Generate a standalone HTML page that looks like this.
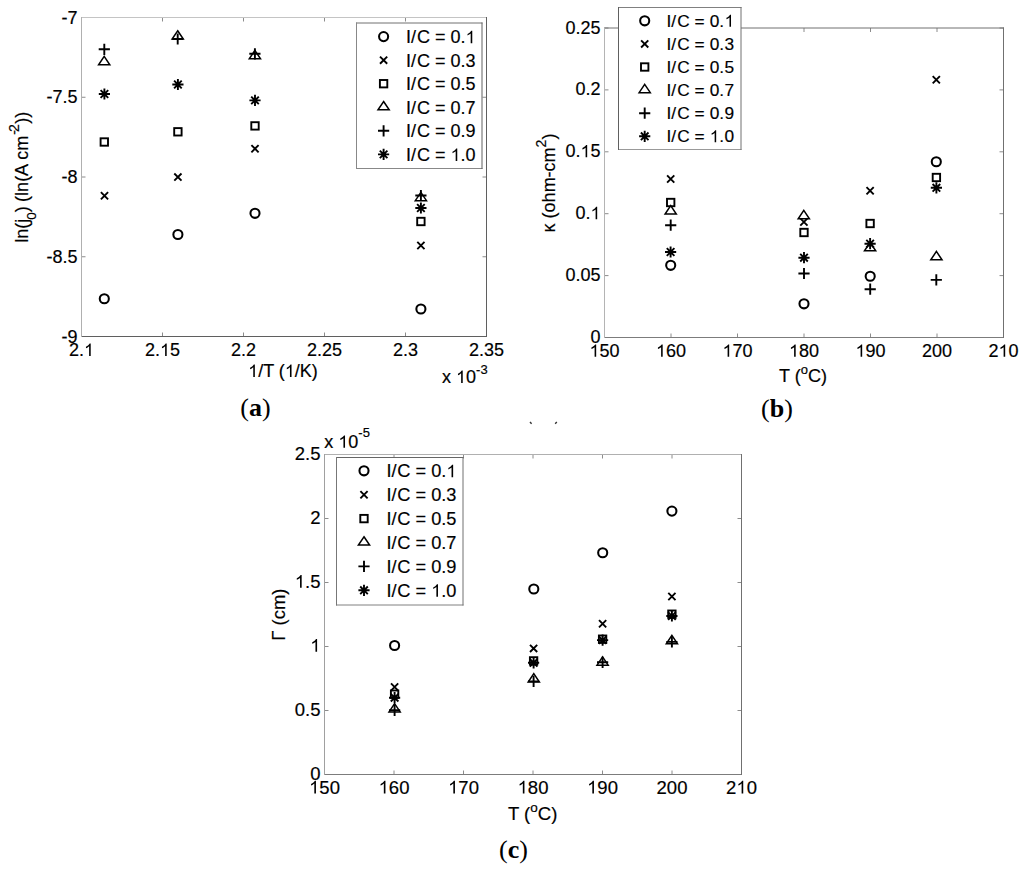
<!DOCTYPE html>
<html><head><meta charset="utf-8"><title>figure</title>
<style>
html,body{margin:0;padding:0;background:#fff;}
body{width:1024px;height:873px;overflow:hidden;}
svg{display:block;}
text{font-family:"Liberation Sans", sans-serif;fill:#000;stroke:#000;stroke-width:0.18px;}
.h{fill-opacity:0;stroke-opacity:0;}
</style></head><body>
<svg width="1024" height="873" viewBox="0 0 1024 873">
<rect width="1024" height="873" fill="#fff"/>
<path d="M81.5 336.5v-4M81.5 17.5v4M162.5 336.5v-4M162.5 17.5v4M243.5 336.5v-4M243.5 17.5v4M324.5 336.5v-4M324.5 17.5v4M405.5 336.5v-4M405.5 17.5v4M486.5 336.5v-4M486.5 17.5v4M81.5 17.5h4M486.5 17.5h-4M81.5 97.25h4M486.5 97.25h-4M81.5 177h4M486.5 177h-4M81.5 256.75h4M486.5 256.75h-4M81.5 336.5h4M486.5 336.5h-4" fill="none" stroke="#8c8c8c" stroke-width="1"/>
<g fill="none" stroke-width="1"><path d="M81 17.5H487" stroke="#c4c4c4"/><path d="M81 336.5H487" stroke="#5f5f5f"/><path d="M81.5 17V337" stroke="#b0b0b0"/><path d="M486.5 17V337" stroke="#5f5f5f"/></g>
<text x="81.5" y="356" font-size="18" text-anchor="middle">2.<tspan class="h">1</tspan></text>
<text x="162.5" y="356" font-size="18" text-anchor="middle">2.<tspan class="h">1</tspan>5</text>
<text x="243.5" y="356" font-size="18" text-anchor="middle">2.2</text>
<text x="324.5" y="356" font-size="18" text-anchor="middle">2.25</text>
<text x="405.5" y="356" font-size="18" text-anchor="middle">2.3</text>
<text x="486.5" y="356" font-size="18" text-anchor="middle">2.35</text>
<text x="77.5" y="23.5" font-size="18" text-anchor="end">-7</text>
<text x="77.5" y="103.25" font-size="18" text-anchor="end">-7.5</text>
<text x="77.5" y="183" font-size="18" text-anchor="end">-8</text>
<text x="77.5" y="262.75" font-size="18" text-anchor="end">-8.5</text>
<text x="77.5" y="342.5" font-size="18" text-anchor="end">-9</text>
<text x="442" y="383" font-size="18">x <tspan class="h">1</tspan>0<tspan font-size="13" dy="-9">-3</tspan></text>
<text x="283" y="377" font-size="18" text-anchor="middle"><tspan class="h">1</tspan>/T (<tspan class="h">1</tspan>/K)</text>
<text transform="translate(27.7 242.8) rotate(-90)" font-size="18">ln(j<tspan font-size="13.5" dy="8.3" dx="-1">0</tspan><tspan dy="-8.3">) </tspan><tspan dx="-0.6">(ln(A cm</tspan><tspan font-size="14" dy="-8.8" dx="1">-</tspan><tspan font-size="14" dx="-1.8">2</tspan><tspan dy="8.8" dx="0.4">))</tspan></text>
<g fill="none" stroke="#000" stroke-width="1.9"><path d="M98.7 49.3H109.9M104.3 43.7V54.9"/><path stroke-width="1.5" d="M104.2 56.45L109.8 64.8L98.6 64.8Z"/><path d="M98.8 94H110M104.4 88.4V99.6M100.6 90.2L108.2 97.8M100.6 97.8L108.2 90.2"/><rect x="100.6" y="138.3" width="7.4" height="7.4"/><path d="M100.9 192.1L108.1 199.3M100.9 199.3L108.1 192.1"/><circle cx="104.3" cy="298.7" r="4.55" stroke-width="2.05"/><path stroke-width="1.5" d="M177.7 30.75L183.3 39.1L172.1 39.1Z"/><path d="M172.1 39H183.3M177.7 33.4V44.6"/><path d="M172.3 84.5H183.5M177.9 78.9V90.1M174.1 80.7L181.7 88.3M174.1 88.3L181.7 80.7"/><rect x="174.2" y="128.1" width="7.4" height="7.4"/><path d="M174.3 173.5L181.5 180.7M174.3 180.7L181.5 173.5"/><circle cx="177.9" cy="234.5" r="4.55" stroke-width="2.05"/><path stroke-width="1.5" d="M254.9 50.45L260.5 58.8L249.3 58.8Z"/><path d="M249.3 53.8H260.5M254.9 48.2V59.4"/><path d="M249.4 100.4H260.6M255 94.8V106M251.2 96.6L258.8 104.2M251.2 104.2L258.8 96.6"/><rect x="251.3" y="122.2" width="7.4" height="7.4"/><path d="M251.4 145.1L258.6 152.3M251.4 152.3L258.6 145.1"/><circle cx="255" cy="213.3" r="4.55" stroke-width="2.05"/><path stroke-width="1.5" d="M420.9 192.35L426.5 200.7L415.3 200.7Z"/><path d="M415.3 195.5H426.5M420.9 189.9V201.1"/><path d="M415.3 208H426.5M420.9 202.4V213.6M417.1 204.2L424.7 211.8M417.1 211.8L424.7 204.2"/><rect x="417.2" y="217.8" width="7.4" height="7.4"/><path d="M417.3 241.9L424.5 249.1M417.3 249.1L424.5 241.9"/><circle cx="420.9" cy="309" r="4.55" stroke-width="2.05"/></g>
<rect x="356.5" y="23" width="125.5" height="145.5" fill="#fff"/>
<g fill="none" stroke-width="1"><path d="M356 23H482.5" stroke="#707070"/><path d="M356 168.5H482.5" stroke="#888"/><path d="M356.5 22.5V169" stroke="#888"/><path d="M482 22.5V169" stroke="#606060"/></g>
<text x="406" y="43.2" font-size="18" text-anchor="start" dx="0 0 1.0">I/C = 0.<tspan class="h">1</tspan></text>
<text x="406" y="66.75" font-size="18" text-anchor="start" dx="0 0 1.0">I/C = 0.3</text>
<text x="406" y="90.3" font-size="18" text-anchor="start" dx="0 0 1.0">I/C = 0.5</text>
<text x="406" y="113.85" font-size="18" text-anchor="start" dx="0 0 1.0">I/C = 0.7</text>
<text x="406" y="137.4" font-size="18" text-anchor="start" dx="0 0 1.0">I/C = 0.9</text>
<text x="406" y="160.95" font-size="18" text-anchor="start" dx="0 0 1.0">I/C = <tspan class="h">1</tspan>.0</text>
<g fill="none" stroke="#000" stroke-width="1.9"><circle cx="383.6" cy="36.6" r="4.55" stroke-width="2.05"/><path d="M380 56.55L387.2 63.75M380 63.75L387.2 56.55"/><rect x="379.9" y="80" width="7.4" height="7.4"/><path stroke-width="1.5" d="M383.6 101.5L389.2 109.85L378 109.85Z"/><path d="M378 130.8H389.2M383.6 125.2V136.4"/><path d="M378 154.35H389.2M383.6 148.75V159.95M379.8 150.55L387.4 158.15M379.8 158.15L387.4 150.55"/></g>
<text x="255.5" y="416" style='font-family:"Liberation Serif", serif;stroke:none' font-size="26" text-anchor="middle">(<tspan style="font-weight:bold">a</tspan>)</text>
<path d="M604.5 337.5v-4M604.5 28v4M671 337.5v-4M671 28v4M737.5 337.5v-4M737.5 28v4M804 337.5v-4M804 28v4M870.5 337.5v-4M870.5 28v4M937 337.5v-4M937 28v4M1003.5 337.5v-4M1003.5 28v4M604.5 337.5h4M1003.5 337.5h-4M604.5 275.6h4M1003.5 275.6h-4M604.5 213.7h4M1003.5 213.7h-4M604.5 151.8h4M1003.5 151.8h-4M604.5 89.9h4M1003.5 89.9h-4M604.5 28h4M1003.5 28h-4" fill="none" stroke="#8c8c8c" stroke-width="1"/>
<g fill="none" stroke-width="1"><path d="M604 28H1004" stroke="#707070"/><path d="M604 337.5H1004" stroke="#7c7c7c"/><path d="M604.5 27.5V338" stroke="#b4b4b4"/><path d="M1003.5 27.5V338" stroke="#707070"/></g>
<text x="604.5" y="356.8" font-size="18" text-anchor="middle"><tspan class="h">1</tspan>50</text>
<text x="671" y="356.8" font-size="18" text-anchor="middle"><tspan class="h">1</tspan>60</text>
<text x="737.5" y="356.8" font-size="18" text-anchor="middle"><tspan class="h">1</tspan>70</text>
<text x="804" y="356.8" font-size="18" text-anchor="middle"><tspan class="h">1</tspan>80</text>
<text x="870.5" y="356.8" font-size="18" text-anchor="middle"><tspan class="h">1</tspan>90</text>
<text x="937" y="356.8" font-size="18" text-anchor="middle">200</text>
<text x="1003.5" y="356.8" font-size="18" text-anchor="middle">2<tspan class="h">1</tspan>0</text>
<text x="600.5" y="343" font-size="18" text-anchor="end">0</text>
<text x="600.5" y="281.1" font-size="18" text-anchor="end">0.05</text>
<text x="600.5" y="219.2" font-size="18" text-anchor="end">0.<tspan class="h">1</tspan></text>
<text x="600.5" y="157.3" font-size="18" text-anchor="end">0.<tspan class="h">1</tspan>5</text>
<text x="600.5" y="95.4" font-size="18" text-anchor="end">0.2</text>
<text x="600.5" y="33.5" font-size="18" text-anchor="end">0.25</text>
<text x="779" y="382.4" font-size="18">T (<tspan font-size="13" dy="-8">o</tspan><tspan dy="8">C)</tspan></text>
<text transform="translate(555.2 183) rotate(-90)" font-size="18" text-anchor="middle">κ (ohm-cm<tspan font-size="14" dy="-9.2">2</tspan><tspan dy="9.2">)</tspan></text>
<g fill="none" stroke="#000" stroke-width="1.9"><path d="M667.1 175.4L674.3 182.6M667.1 182.6L674.3 175.4"/><rect x="667" y="198.8" width="7.4" height="7.4"/><path stroke-width="1.5" d="M670.7 205.65L676.3 214L665.1 214Z"/><path d="M665.1 225.2H676.3M670.7 219.6V230.8"/><path d="M665 252H676.2M670.6 246.4V257.6M666.8 248.2L674.4 255.8M666.8 255.8L674.4 248.2"/><circle cx="670.7" cy="265.3" r="4.55" stroke-width="2.05"/><path stroke-width="1.5" d="M803.8 210.45L809.4 218.8L798.2 218.8Z"/><path d="M800.3 218.4L807.5 225.6M800.3 225.6L807.5 218.4"/><rect x="800.3" y="228.8" width="7.4" height="7.4"/><path d="M798.4 257.7H809.6M804 252.1V263.3M800.2 253.9L807.8 261.5M800.2 261.5L807.8 253.9"/><path d="M798.4 273.5H809.6M804 267.9V279.1"/><circle cx="804" cy="303.8" r="4.55" stroke-width="2.05"/><path d="M866.5 187.2L873.7 194.4M866.5 194.4L873.7 187.2"/><rect x="866.4" y="219.8" width="7.4" height="7.4"/><path d="M864.5 243.7H875.7M870.1 238.1V249.3M866.3 239.9L873.9 247.5M866.3 247.5L873.9 239.9"/><path stroke-width="1.5" d="M870.1 242.45L875.7 250.8L864.5 250.8Z"/><circle cx="870.2" cy="276.2" r="4.55" stroke-width="2.05"/><path d="M864.6 289.2H875.8M870.2 283.6V294.8"/><path d="M932.7 76.2L939.9 83.4M932.7 83.4L939.9 76.2"/><circle cx="936.3" cy="161.7" r="4.55" stroke-width="2.05"/><rect x="932.7" y="173.8" width="7.4" height="7.4"/><path d="M930.8 187.8H942M936.4 182.2V193.4M932.6 184L940.2 191.6M932.6 191.6L940.2 184"/><path stroke-width="1.5" d="M936.4 251.45L942 259.8L930.8 259.8Z"/><path d="M930.7 279.9H941.9M936.3 274.3V285.5"/></g>
<rect x="618.5" y="7.5" width="122.5" height="142" fill="#fff"/>
<g fill="none" stroke-width="1"><path d="M618 7.5H741.5" stroke="#808080"/><path d="M618 149.5H741.5" stroke="#999"/><path d="M618.5 7V150" stroke="#606060"/><path d="M741 7V150" stroke="#707070"/></g>
<text x="666.5" y="26.7" font-size="17.3" text-anchor="start" dx="0 0 1.1 0 0 0 0.3 0 0.4">I/C = 0.<tspan class="h">1</tspan></text>
<text x="666.5" y="49.8" font-size="17.3" text-anchor="start" dx="0 0 1.1 0 0 0 0.3 0 0.4">I/C = 0.3</text>
<text x="666.5" y="72.9" font-size="17.3" text-anchor="start" dx="0 0 1.1 0 0 0 0.3 0 0.4">I/C = 0.5</text>
<text x="666.5" y="96" font-size="17.3" text-anchor="start" dx="0 0 1.1 0 0 0 0.3 0 0.4">I/C = 0.7</text>
<text x="666.5" y="119.1" font-size="17.3" text-anchor="start" dx="0 0 1.1 0 0 0 0.3 0 0.4">I/C = 0.9</text>
<text x="666.5" y="142.2" font-size="17.3" text-anchor="start" dx="0 0 1.1 0 0 0 0.3 0 0.4">I/C = <tspan class="h">1</tspan>.0</text>
<g fill="none" stroke="#000" stroke-width="1.9"><circle cx="644.7" cy="20.8" r="4.55" stroke-width="2.05"/><path d="M641.1 40.3L648.3 47.5M641.1 47.5L648.3 40.3"/><rect x="641" y="63.3" width="7.4" height="7.4"/><path stroke-width="1.5" d="M644.7 84.35L650.3 92.7L639.1 92.7Z"/><path d="M639.1 113.2H650.3M644.7 107.6V118.8"/><path d="M639.1 136.3H650.3M644.7 130.7V141.9M640.9 132.5L648.5 140.1M640.9 140.1L648.5 132.5"/></g>
<text x="777" y="416.6" style='font-family:"Liberation Serif", serif;stroke:none' font-size="26" text-anchor="middle">(<tspan style="font-weight:bold">b</tspan>)</text>
<path d="M324.5 774.5v-4M324.5 454.5v4M394 774.5v-4M394 454.5v4M463.5 774.5v-4M463.5 454.5v4M533 774.5v-4M533 454.5v4M602.5 774.5v-4M602.5 454.5v4M672 774.5v-4M672 454.5v4M741.5 774.5v-4M741.5 454.5v4M324.5 774.5h4M741.5 774.5h-4M324.5 710.5h4M741.5 710.5h-4M324.5 646.5h4M741.5 646.5h-4M324.5 582.5h4M741.5 582.5h-4M324.5 518.5h4M741.5 518.5h-4M324.5 454.5h4M741.5 454.5h-4" fill="none" stroke="#8c8c8c" stroke-width="1"/>
<g fill="none" stroke-width="1"><path d="M324 454.5H742" stroke="#b0b0b0"/><path d="M324 774.5H742" stroke="#7c7c7c"/><path d="M324.5 454V775" stroke="#a0a0a0"/><path d="M741.5 454V775" stroke="#707070"/></g>
<text x="324.5" y="793.5" font-size="18.5" text-anchor="middle"><tspan class="h">1</tspan>50</text>
<text x="394" y="793.5" font-size="18.5" text-anchor="middle"><tspan class="h">1</tspan>60</text>
<text x="463.5" y="793.5" font-size="18.5" text-anchor="middle"><tspan class="h">1</tspan>70</text>
<text x="533" y="793.5" font-size="18.5" text-anchor="middle"><tspan class="h">1</tspan>80</text>
<text x="602.5" y="793.5" font-size="18.5" text-anchor="middle"><tspan class="h">1</tspan>90</text>
<text x="672" y="793.5" font-size="18.5" text-anchor="middle">200</text>
<text x="741.5" y="793.5" font-size="18.5" text-anchor="middle">2<tspan class="h">1</tspan>0</text>
<text x="320.5" y="779.8" font-size="18.5" text-anchor="end">0</text>
<text x="320.5" y="715.8" font-size="18.5" text-anchor="end">0.5</text>
<text x="320.5" y="651.8" font-size="18.5" text-anchor="end"><tspan class="h">1</tspan></text>
<text x="320.5" y="587.8" font-size="18.5" text-anchor="end"><tspan class="h">1</tspan>.5</text>
<text x="320.5" y="523.8" font-size="18.5" text-anchor="end">2</text>
<text x="320.5" y="459.8" font-size="18.5" text-anchor="end">2.5</text>
<text x="324.3" y="447.8" font-size="18">x <tspan class="h">1</tspan>0<tspan font-size="13" dy="-11.2">-5</tspan></text>
<text x="508" y="820.4" font-size="18.5">T (<tspan font-size="13.5" dy="-8">o</tspan><tspan dy="8">C)</tspan></text>
<text transform="translate(285.2 614.7) rotate(-90)" font-size="18.5" text-anchor="middle">Γ (cm)</text>
<g fill="none" stroke="#000" stroke-width="1.9"><circle cx="394.6" cy="645.5" r="4.55" stroke-width="2.05"/><path d="M391 683.4L398.2 690.6M391 690.6L398.2 683.4"/><rect x="390.9" y="690.5" width="7.4" height="7.4"/><path d="M389 697.7H400.2M394.6 692.1V703.3M390.8 693.9L398.4 701.5M390.8 701.5L398.4 693.9"/><path stroke-width="1.5" d="M394.6 703.55L400.2 711.9L389 711.9Z"/><path d="M389 710.3H400.2M394.6 704.7V715.9"/><circle cx="533.8" cy="589" r="4.55" stroke-width="2.05"/><path d="M530 644.8L537.2 652M530 652L537.2 644.8"/><rect x="529.9" y="657.2" width="7.4" height="7.4"/><path d="M528 662.8H539.2M533.6 657.2V668.4M529.8 659L537.4 666.6M529.8 666.6L537.4 659"/><path stroke-width="1.5" d="M533.8 673.65L539.4 682L528.2 682Z"/><path d="M528 681.4H539.2M533.6 675.8V687"/><circle cx="602.7" cy="552.7" r="4.55" stroke-width="2.05"/><path d="M599 620.2L606.2 627.4M599 627.4L606.2 620.2"/><rect x="598.9" y="635.5" width="7.4" height="7.4"/><path d="M597 640.1H608.2M602.6 634.5V645.7M598.8 636.3L606.4 643.9M598.8 643.9L606.4 636.3"/><path stroke-width="1.5" d="M602.6 656.85L608.2 665.2L597 665.2Z"/><path d="M597 662.3H608.2M602.6 656.7V667.9"/><circle cx="671.9" cy="511.1" r="4.55" stroke-width="2.05"/><path d="M668.3 592.9L675.5 600.1M668.3 600.1L675.5 592.9"/><rect x="668.2" y="610.5" width="7.4" height="7.4"/><path d="M666.3 616H677.5M671.9 610.4V621.6M668.1 612.2L675.7 619.8M668.1 619.8L675.7 612.2"/><path stroke-width="1.5" d="M671.9 635.45L677.5 643.8L666.3 643.8Z"/><path d="M666.3 641.9H677.5M671.9 636.3V647.5"/></g>
<rect x="336.5" y="457.5" width="126.5" height="147.5" fill="#fff"/>
<g fill="none" stroke-width="1"><path d="M336 457.5H463.5" stroke="#666"/><path d="M336 605H463.5" stroke="#808080"/><path d="M336.5 457V605.5" stroke="#777"/><path d="M463 457V605.5" stroke="#707070"/></g>
<text x="386.4" y="477.3" font-size="18.2" text-anchor="start" dx="0 0 0.8">I/C = 0.<tspan class="h">1</tspan></text>
<text x="386.4" y="501.2" font-size="18.2" text-anchor="start" dx="0 0 0.8">I/C = 0.3</text>
<text x="386.4" y="525.1" font-size="18.2" text-anchor="start" dx="0 0 0.8">I/C = 0.5</text>
<text x="386.4" y="549" font-size="18.2" text-anchor="start" dx="0 0 0.8">I/C = 0.7</text>
<text x="386.4" y="572.9" font-size="18.2" text-anchor="start" dx="0 0 0.8">I/C = 0.9</text>
<text x="386.4" y="596.8" font-size="18.2" text-anchor="start" dx="0 0 0.8">I/C = <tspan class="h">1</tspan>.0</text>
<g fill="none" stroke="#000" stroke-width="1.9"><circle cx="364" cy="470.8" r="4.55" stroke-width="2.05"/><path d="M360.4 491.1L367.6 498.3M360.4 498.3L367.6 491.1"/><rect x="360.3" y="514.9" width="7.4" height="7.4"/><path stroke-width="1.5" d="M364 536.75L369.6 545.1L358.4 545.1Z"/><path d="M358.4 566.4H369.6M364 560.8V572"/><path d="M358.4 590.3H369.6M364 584.7V595.9M360.2 586.5L367.8 594.1M360.2 594.1L367.8 586.5"/></g>
<text x="513.4" y="857.9" style='font-family:"Liberation Serif", serif;stroke:none' font-size="26" text-anchor="middle">(<tspan style="font-weight:bold">c</tspan>)</text>
<path d="M530 422l1.6 1.8M556.8 422l-1.6 1.8" stroke="#333" stroke-width="1.4" fill="none"/>
<g fill="#000"><path transform="translate(84 356) scale(0.008789 -0.008789)" d="M763 0L583 0L583 1098C540 1059 483 1020 412 980C342 941 279 910 223 890L223 1057C324 1102 412 1157 487 1222C562 1287 616 1349 647 1409L763 1409Z" /><path transform="translate(159.99 356) scale(0.008789 -0.008789)" d="M763 0L583 0L583 1098C540 1059 483 1020 412 980C342 941 279 910 223 890L223 1057C324 1102 412 1157 487 1222C562 1287 616 1349 647 1409L763 1409Z" /><path transform="translate(456.02 383) scale(0.008789 -0.008789)" d="M763 0L583 0L583 1098C540 1059 483 1020 412 980C342 941 279 910 223 890L223 1057C324 1102 412 1157 487 1222C562 1287 616 1349 647 1409L763 1409Z" /><path transform="translate(248.14 377) scale(0.008789 -0.008789)" d="M763 0L583 0L583 1098C540 1059 483 1020 412 980C342 941 279 910 223 890L223 1057C324 1102 412 1157 487 1222C562 1287 616 1349 647 1409L763 1409Z" /><path transform="translate(284.83 377) scale(0.008789 -0.008789)" d="M763 0L583 0L583 1098C540 1059 483 1020 412 980C342 941 279 910 223 890L223 1057C324 1102 412 1157 487 1222C562 1287 616 1349 647 1409L763 1409Z" /><path transform="translate(465.56 43.2) scale(0.008789 -0.008789)" d="M763 0L583 0L583 1098C540 1059 483 1020 412 980C342 941 279 910 223 890L223 1057C324 1102 412 1157 487 1222C562 1287 616 1349 647 1409L763 1409Z" /><path transform="translate(450.55 160.95) scale(0.008789 -0.008789)" d="M763 0L583 0L583 1098C540 1059 483 1020 412 980C342 941 279 910 223 890L223 1057C324 1102 412 1157 487 1222C562 1287 616 1349 647 1409L763 1409Z" /><path transform="translate(589.48 356.8) scale(0.008789 -0.008789)" d="M763 0L583 0L583 1098C540 1059 483 1020 412 980C342 941 279 910 223 890L223 1057C324 1102 412 1157 487 1222C562 1287 616 1349 647 1409L763 1409Z" /><path transform="translate(655.98 356.8) scale(0.008789 -0.008789)" d="M763 0L583 0L583 1098C540 1059 483 1020 412 980C342 941 279 910 223 890L223 1057C324 1102 412 1157 487 1222C562 1287 616 1349 647 1409L763 1409Z" /><path transform="translate(722.48 356.8) scale(0.008789 -0.008789)" d="M763 0L583 0L583 1098C540 1059 483 1020 412 980C342 941 279 910 223 890L223 1057C324 1102 412 1157 487 1222C562 1287 616 1349 647 1409L763 1409Z" /><path transform="translate(788.98 356.8) scale(0.008789 -0.008789)" d="M763 0L583 0L583 1098C540 1059 483 1020 412 980C342 941 279 910 223 890L223 1057C324 1102 412 1157 487 1222C562 1287 616 1349 647 1409L763 1409Z" /><path transform="translate(855.48 356.8) scale(0.008789 -0.008789)" d="M763 0L583 0L583 1098C540 1059 483 1020 412 980C342 941 279 910 223 890L223 1057C324 1102 412 1157 487 1222C562 1287 616 1349 647 1409L763 1409Z" /><path transform="translate(998.49 356.8) scale(0.008789 -0.008789)" d="M763 0L583 0L583 1098C540 1059 483 1020 412 980C342 941 279 910 223 890L223 1057C324 1102 412 1157 487 1222C562 1287 616 1349 647 1409L763 1409Z" /><path transform="translate(590.48 219.2) scale(0.008789 -0.008789)" d="M763 0L583 0L583 1098C540 1059 483 1020 412 980C342 941 279 910 223 890L223 1057C324 1102 412 1157 487 1222C562 1287 616 1349 647 1409L763 1409Z" /><path transform="translate(580.47 157.3) scale(0.008789 -0.008789)" d="M763 0L583 0L583 1098C540 1059 483 1020 412 980C342 941 279 910 223 890L223 1057C324 1102 412 1157 487 1222C562 1287 616 1349 647 1409L763 1409Z" /><path transform="translate(724.57 26.7) scale(0.008447 -0.008447)" d="M763 0L583 0L583 1098C540 1059 483 1020 412 980C342 941 279 910 223 890L223 1057C324 1102 412 1157 487 1222C562 1287 616 1349 647 1409L763 1409Z" /><path transform="translate(709.73 142.2) scale(0.008447 -0.008447)" d="M763 0L583 0L583 1098C540 1059 483 1020 412 980C342 941 279 910 223 890L223 1057C324 1102 412 1157 487 1222C562 1287 616 1349 647 1409L763 1409Z" /><path transform="translate(309.06 793.5) scale(0.009033 -0.009033)" d="M763 0L583 0L583 1098C540 1059 483 1020 412 980C342 941 279 910 223 890L223 1057C324 1102 412 1157 487 1222C562 1287 616 1349 647 1409L763 1409Z" /><path transform="translate(378.56 793.5) scale(0.009033 -0.009033)" d="M763 0L583 0L583 1098C540 1059 483 1020 412 980C342 941 279 910 223 890L223 1057C324 1102 412 1157 487 1222C562 1287 616 1349 647 1409L763 1409Z" /><path transform="translate(448.06 793.5) scale(0.009033 -0.009033)" d="M763 0L583 0L583 1098C540 1059 483 1020 412 980C342 941 279 910 223 890L223 1057C324 1102 412 1157 487 1222C562 1287 616 1349 647 1409L763 1409Z" /><path transform="translate(517.56 793.5) scale(0.009033 -0.009033)" d="M763 0L583 0L583 1098C540 1059 483 1020 412 980C342 941 279 910 223 890L223 1057C324 1102 412 1157 487 1222C562 1287 616 1349 647 1409L763 1409Z" /><path transform="translate(587.06 793.5) scale(0.009033 -0.009033)" d="M763 0L583 0L583 1098C540 1059 483 1020 412 980C342 941 279 910 223 890L223 1057C324 1102 412 1157 487 1222C562 1287 616 1349 647 1409L763 1409Z" /><path transform="translate(736.35 793.5) scale(0.009033 -0.009033)" d="M763 0L583 0L583 1098C540 1059 483 1020 412 980C342 941 279 910 223 890L223 1057C324 1102 412 1157 487 1222C562 1287 616 1349 647 1409L763 1409Z" /><path transform="translate(310.2 651.8) scale(0.009033 -0.009033)" d="M763 0L583 0L583 1098C540 1059 483 1020 412 980C342 941 279 910 223 890L223 1057C324 1102 412 1157 487 1222C562 1287 616 1349 647 1409L763 1409Z" /><path transform="translate(294.77 587.8) scale(0.009033 -0.009033)" d="M763 0L583 0L583 1098C540 1059 483 1020 412 980C342 941 279 910 223 890L223 1057C324 1102 412 1157 487 1222C562 1287 616 1349 647 1409L763 1409Z" /><path transform="translate(338.32 447.8) scale(0.008789 -0.008789)" d="M763 0L583 0L583 1098C540 1059 483 1020 412 980C342 941 279 910 223 890L223 1057C324 1102 412 1157 487 1222C562 1287 616 1349 647 1409L763 1409Z" /><path transform="translate(446.36 477.3) scale(0.008887 -0.008887)" d="M763 0L583 0L583 1098C540 1059 483 1020 412 980C342 941 279 910 223 890L223 1057C324 1102 412 1157 487 1222C562 1287 616 1349 647 1409L763 1409Z" /><path transform="translate(431.2 596.8) scale(0.008887 -0.008887)" d="M763 0L583 0L583 1098C540 1059 483 1020 412 980C342 941 279 910 223 890L223 1057C324 1102 412 1157 487 1222C562 1287 616 1349 647 1409L763 1409Z" /></g>
</svg>
</body></html>
